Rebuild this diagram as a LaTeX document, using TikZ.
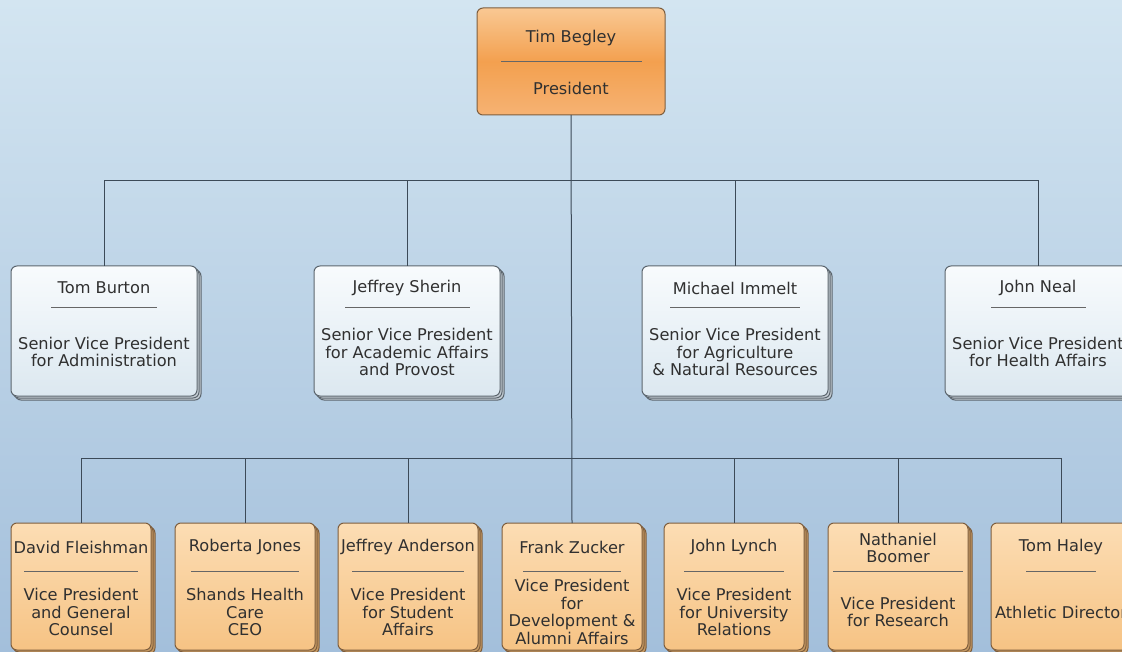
\documentclass[tikz,border=0pt]{standalone}
\usepackage{fontspec}
\setmainfont{DejaVu Sans}
\usetikzlibrary{positioning,calc,shadows}

\definecolor{bgtop}{HTML}{D3E5F1}
\definecolor{bgbot}{HTML}{A3BFDB}
\definecolor{wirecol}{HTML}{3C4A58}
\definecolor{inkgray}{HTML}{303030}
\definecolor{blueedge}{HTML}{5C666E}
\definecolor{bluetop}{HTML}{F8FBFD}
\definecolor{bluebot}{HTML}{DCE8F0}
\definecolor{blueshade}{HTML}{C4CCD3}
\definecolor{orangeedge}{HTML}{7E5E3E}
\definecolor{peachtop}{HTML}{FCDDB4}
\definecolor{peachbot}{HTML}{F6C384}
\definecolor{peachshade}{HTML}{C79A62}
\definecolor{prestop}{HTML}{F9C893}
\definecolor{presmid}{HTML}{F3A04F}
\definecolor{presbot}{HTML}{F6B273}

\begin{document}
\begin{tikzpicture}[x=1pt, y=-1pt,
    every node/.style={inner sep=0pt, outer sep=0pt},
    card/.style={draw, rounded corners=6pt, line width=1pt},
    presbox/.style={card, draw=orangeedge, top color=prestop, bottom color=presbot,
        middle color=presmid, minimum width=188pt, minimum height=107pt},
    seniorbox/.style={card, draw=blueedge, top color=bluetop, bottom color=bluebot,
        minimum width=186pt, minimum height=130pt,
        double copy shadow={shadow xshift=2pt, shadow yshift=-2pt, draw=blueedge, fill=blueshade}},
    vpbox/.style={card, draw=orangeedge, top color=peachtop, bottom color=peachbot,
        minimum width=140pt, minimum height=127pt,
        double copy shadow={shadow xshift=2pt, shadow yshift=-2pt, draw=orangeedge, fill=peachshade}},
    txt/.style={align=center, text=inkgray, font=\fontsize{16.2}{17.8}\selectfont},
    sepline/.style={draw=gray!80!black, line width=1pt},
    wire/.style={draw=wirecol, line width=1pt}]

  % background
  \shade[top color=bgtop, bottom color=bgbot] (0,0) rectangle (1122,652);
  \useasboundingbox (0,0) rectangle (1122,652);

  \coordinate (upbus) at (0,181);
  \coordinate (lowbus) at (0,458);

  % boxes
  \node[presbox] (begley) at (571,61.5) {};
  \node[seniorbox] (burton) at (104,331) {};
  \node[seniorbox] (sherin) at (407,331) {};
  \node[seniorbox] (immelt) at (735,331) {};
  \node[seniorbox] (neal) at (1038,331) {};
  \node[vpbox] (fleishman) at (81,586.5) {};
  \node[vpbox] (jones) at (245,586.5) {};
  \node[vpbox] (anderson) at (408,586.5) {};
  \node[vpbox] (zucker) at (572,586.5) {};
  \node[vpbox] (lynch) at (734,586.5) {};
  \node[vpbox] (boomer) at (898,586.5) {};
  \node[vpbox] (haley) at (1061,586.5) {};

  % connectors
  \draw[wire] (begley.south) -- (zucker.north);
  \draw[wire] (burton.north) -- (burton.north |- upbus) -| (neal.north);
  \foreach \n in {sherin,immelt}
    \draw[wire] (\n.north) -- (\n.north |- upbus);
  \draw[wire] (fleishman.north) -- (fleishman.north |- lowbus) -| (haley.north);
  \foreach \n in {jones,anderson,lynch,boomer}
    \draw[wire] (\n.north) -- (\n.north |- lowbus);

  % president
  \node[txt] (begley-name) at ([yshift=-30]begley.north) {Tim Begley};
  \draw[sepline] ([xshift=-70,yshift=-54]begley.north) -- ([xshift=71,yshift=-54]begley.north);
  \node[txt] (begley-title) at ([yshift=-80]begley.north) {President};

  % senior vice presidents
  \node[txt] (burton-name) at ([yshift=-22]burton.north) {Tom Burton};
  \draw[sepline] ([xshift=-53,yshift=-42]burton.north) -- ([xshift=53,yshift=-42]burton.north);
  \node[txt] (burton-title) at ([yshift=-86]burton.north) {Senior Vice President\\for Administration};

  \node[txt] (sherin-name) at ([yshift=-22]sherin.north) {Jeffrey Sherin};
  \draw[sepline] ([xshift=-62,yshift=-42]sherin.north) -- ([xshift=63,yshift=-42]sherin.north);
  \node[txt] (sherin-title) at ([yshift=-86]sherin.north) {Senior Vice President\\for Academic Affairs\\and Provost};

  \node[txt] (immelt-name) at ([yshift=-22]immelt.north) {Michael Immelt};
  \draw[sepline] ([xshift=-65,yshift=-42]immelt.north) -- ([xshift=65,yshift=-42]immelt.north);
  \node[txt] (immelt-title) at ([yshift=-86]immelt.north) {Senior Vice President\\for Agriculture\\\& Natural Resources};

  \node[txt] (neal-name) at ([yshift=-22]neal.north) {John Neal};
  \draw[sepline] ([xshift=-47,yshift=-42]neal.north) -- ([xshift=48,yshift=-42]neal.north);
  \node[txt] (neal-title) at ([yshift=-86]neal.north) {Senior Vice President\\for Health Affairs};

  % vice presidents
  \node[txt] (fleishman-name) at ([yshift=-24]fleishman.north) {David Fleishman};
  \draw[sepline] ([xshift=-57,yshift=-48]fleishman.north) -- ([xshift=57,yshift=-48]fleishman.north);
  \node[txt] (fleishman-title) at ([yshift=-89]fleishman.north) {Vice President\\and General\\Counsel};

  \node[txt] (jones-name) at ([yshift=-24]jones.north) {Roberta Jones};
  \draw[sepline] ([xshift=-54,yshift=-48]jones.north) -- ([xshift=54,yshift=-48]jones.north);
  \node[txt] (jones-title) at ([yshift=-89]jones.north) {Shands Health\\Care\\CEO};

  \node[txt] (anderson-name) at ([yshift=-24]anderson.north) {Jeffrey Anderson};
  \draw[sepline] ([xshift=-56,yshift=-48]anderson.north) -- ([xshift=56,yshift=-48]anderson.north);
  \node[txt] (anderson-title) at ([yshift=-89]anderson.north) {Vice President\\for Student\\Affairs};

  \node[txt] (zucker-name) at ([yshift=-24]zucker.north) {Frank Zucker};
  \draw[sepline] ([xshift=-49,yshift=-48]zucker.north) -- ([xshift=49,yshift=-48]zucker.north);
  \node[txt] (zucker-title) at ([yshift=-89]zucker.north) {Vice President\\for\\Development \&\\Alumni Affairs};

  \node[txt] (lynch-name) at ([yshift=-24]lynch.north) {John Lynch};
  \draw[sepline] ([xshift=-50,yshift=-48]lynch.north) -- ([xshift=50,yshift=-48]lynch.north);
  \node[txt] (lynch-title) at ([yshift=-89]lynch.north) {Vice President\\for University\\Relations};

  \node[txt] (boomer-name) at ([yshift=-25]boomer.north) {Nathaniel\\Boomer};
  \draw[sepline] ([xshift=-65,yshift=-48]boomer.north) -- ([xshift=65,yshift=-48]boomer.north);
  \node[txt] (boomer-title) at ([yshift=-89]boomer.north) {Vice President\\for Research};

  \node[txt] (haley-name) at ([yshift=-24]haley.north) {Tom Haley};
  \draw[sepline] ([xshift=-35,yshift=-48]haley.north) -- ([xshift=35,yshift=-48]haley.north);
  \node[txt] (haley-title) at ([yshift=-89]haley.north) {Athletic Director};
\end{tikzpicture}
\end{document}
